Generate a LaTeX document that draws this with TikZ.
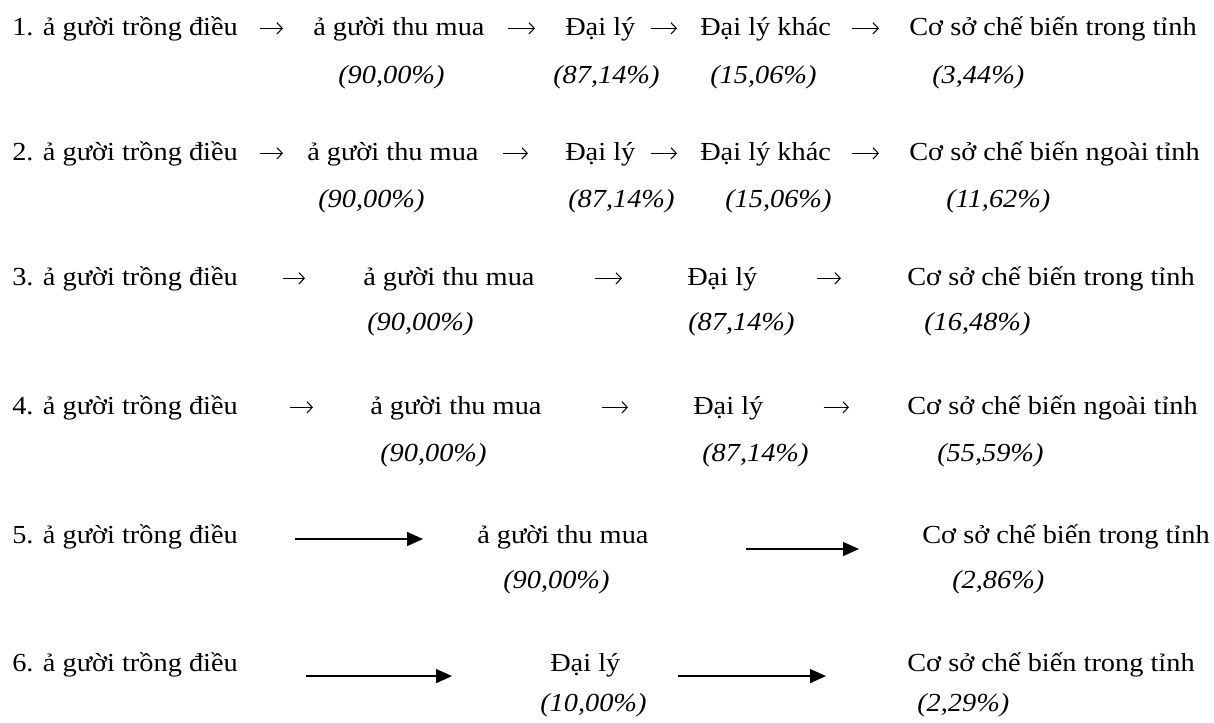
\documentclass[tikz,border=0pt]{standalone}
\usepackage{fontspec}
\setmainfont{Liberation Serif}[FakeStretch=1.09]
\usepackage{tikz}
\usetikzlibrary{arrows.meta}

\begin{document}
\begin{tikzpicture}[x=0.75pt,y=0.75pt,yscale=-1,xscale=1,
    lbl/.style={anchor=base west,inner sep=0pt,text height=15pt,text depth=5pt,font=\fontsize{19.5pt}{23pt}\selectfont},
    pct/.style={anchor=base west,inner sep=0pt,font=\fontsize{19.5pt}{23pt}\selectfont\itshape},
    arr/.style={line width=0.8pt,-{Straight Barb[length=4pt,width=8.5pt]}},
    fatarr/.style={line width=1.1pt,-{Triangle[length=12pt,width=10.5pt]}}]
\useasboundingbox (0,0) rectangle (1214,722);
% Row 1
\draw (12,35) node (r1a) [lbl] {1. ả gười trồng điều};
\draw (313,35) node (r1b) [lbl] {ả gười thu mua};
\draw (565,35) node (r1c) [lbl] {Đại lý};
\draw (700,35) node (r1d) [lbl] {Đại lý khác};
\draw (909,35) node (r1e) [lbl] {Cơ sở chế biến trong tỉnh};
\draw (338,83) node (p1b) [pct] {(90,00\%)};
\draw (553,83) node (p1c) [pct] {(87,14\%)};
\draw (710,83) node (p1d) [pct] {(15,06\%)};
\draw (932,83) node (p1e) [pct] {(3,44\%)};
%Straight Lines
\draw [arr,shorten <=16.5pt,shorten >=22.5pt] (r1a) -- (r1b);
\draw [arr,shorten <=17.25pt,shorten >=22.5pt] (r1b) -- (r1c);
\draw [arr,shorten <=11.25pt,shorten >=17.25pt] (r1c) -- (r1d);
\draw [arr,shorten <=15.75pt,shorten >=22.5pt] (r1d) -- (r1e);
% Row 2
\draw (12,160) node (r2a) [lbl] {2. ả gười trồng điều};
\draw (307,160) node (r2b) [lbl] {ả gười thu mua};
\draw (565,160) node (r2c) [lbl] {Đại lý};
\draw (700,160) node (r2d) [lbl] {Đại lý khác};
\draw (909,160) node (r2e) [lbl] {Cơ sở chế biến ngoài tỉnh};
\draw (318,207) node (p2b) [pct] {(90,00\%)};
\draw (568,207) node (p2c) [pct] {(87,14\%)};
\draw (725,207) node (p2d) [pct] {(15,06\%)};
\draw (946,207) node (p2e) [pct] {(11,62\%)};
%Straight Lines
\draw [arr,shorten <=16.5pt,shorten >=18pt] (r2a) -- (r2b);
\draw [arr,shorten <=18pt,shorten >=27.75pt] (r2b) -- (r2c);
\draw [arr,shorten <=11.25pt,shorten >=17.25pt] (r2c) -- (r2d);
\draw [arr,shorten <=15.75pt,shorten >=22.5pt] (r2d) -- (r2e);
% Row 3
\draw (12,285) node (r3a) [lbl] {3. ả gười trồng điều};
\draw (363,285) node (r3b) [lbl] {ả gười thu mua};
\draw (687,285) node (r3c) [lbl] {Đại lý};
\draw (907,285) node (r3e) [lbl] {Cơ sở chế biến trong tỉnh};
\draw (367,330) node (p3b) [pct] {(90,00\%)};
\draw (688,330) node (p3c) [pct] {(87,14\%)};
\draw (924,330) node (p3e) [pct] {(16,48\%)};
%Straight Lines
\draw [arr,shorten <=33.75pt,shorten >=43.5pt] (r3a) -- (r3b);
\draw [arr,shorten <=45pt,shorten >=48.75pt] (r3b) -- (r3c);
\draw [arr,shorten <=44.25pt,shorten >=49.5pt] (r3c) -- (r3e);
% Row 4
\draw (12,414) node (r4a) [lbl] {4. ả gười trồng điều};
\draw (370,414) node (r4b) [lbl] {ả gười thu mua};
\draw (693,414) node (r4c) [lbl] {Đại lý};
\draw (907,414) node (r4e) [lbl] {Cơ sở chế biến ngoài tỉnh};
\draw (380,461) node (p4b) [pct] {(90,00\%)};
\draw (702,461) node (p4c) [pct] {(87,14\%)};
\draw (937,461) node (p4e) [pct] {(55,59\%)};
%Straight Lines
\draw [arr,shorten <=39pt,shorten >=42.75pt] (r4a) -- (r4b);
\draw [arr,shorten <=45pt,shorten >=48.75pt] (r4b) -- (r4c);
\draw [arr,shorten <=45pt,shorten >=43.5pt] (r4c) -- (r4e);
% Row 5
\draw (12,543) node (r5a) [lbl] {5. ả gười trồng điều};
\draw (477,543) node (r5b) [lbl] {ả gười thu mua};
\draw (922,543) node (r5e) [lbl] {Cơ sở chế biến trong tỉnh};
\draw (503,588) node (p5b) [pct] {(90,00\%)};
\draw (952,588) node (p5e) [pct] {(2,86\%)};
%Straight Lines
\draw [fatarr,shorten <=42.75pt,shorten >=40.5pt] ([yshift=2pt]r5a.east) -- ([yshift=2pt]r5b.west);
\draw [fatarr,shorten <=72.75pt,shorten >=47.25pt] ([yshift=9.5pt]r5b.east) -- ([yshift=9.5pt]r5e.west);
% Row 6
\draw (12,671) node (r6a) [lbl] {6. ả gười trồng điều};
\draw (550,671) node (r6c) [lbl] {Đại lý};
\draw (907,671) node (r6e) [lbl] {Cơ sở chế biến trong tỉnh};
\draw (540,711) node (p6c) [pct] {(10,00\%)};
\draw (917,711) node (p6e) [pct] {(2,29\%)};
%Straight Lines
\draw [fatarr,shorten <=51pt,shorten >=73.5pt] ([yshift=8.8pt]r6a.east) -- ([yshift=8.8pt]r6c.west);
\draw [fatarr,shorten <=42.75pt,shorten >=60.75pt] ([yshift=8.8pt]r6c.east) -- ([yshift=8.8pt]r6e.west);
\end{tikzpicture}
\end{document}
